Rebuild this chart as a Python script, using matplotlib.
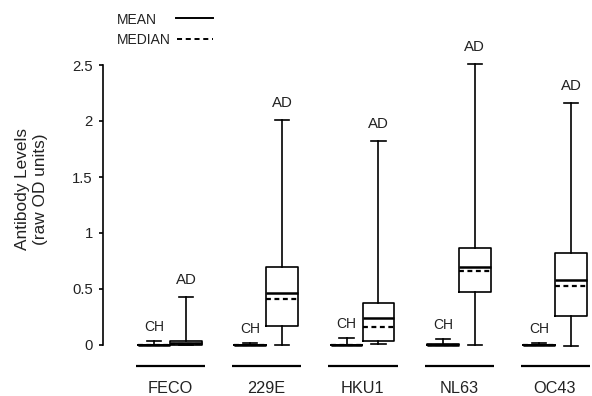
import matplotlib
matplotlib.use("Agg")
import matplotlib.pyplot as plt
from matplotlib.lines import Line2D

plt.rcParams['font.family'] = ['Liberation Sans', 'DejaVu Sans']

groups = ["FECO", "229E", "HKU1", "NL63", "OC43"]

# AD (adult) box statistics
ad_whislo = [0.0, 0.0, 0.005, 0.0, -0.005]
ad_q1 = [0.0, 0.17, 0.035, 0.47, 0.26]
ad_med = [0.01, 0.41, 0.16, 0.66, 0.53]
ad_mean = [0.02, 0.465, 0.24, 0.70, 0.58]
ad_q3 = [0.035, 0.70, 0.375, 0.87, 0.82]
ad_whishi = [0.43, 2.01, 1.82, 2.51, 2.16]

# CH (children) box statistics
ch_whislo = [0.0, 0.0, 0.0, 0.0, 0.0]
ch_q1 = [0.0, 0.0, 0.0, 0.0, 0.0]
ch_med = [0.0, 0.0, 0.0, 0.0, 0.0]
ch_mean = [0.0, 0.0, 0.0, 0.003, 0.0]
ch_q3 = [0.0, 0.0, 0.0, 0.008, 0.0]
ch_whishi = [0.035, 0.015, 0.06, 0.055, 0.02]

yticks = [0, 0.5, 1, 1.5, 2, 2.5]
yticklabels = ["0", "0.5", "1", "1.5", "2", "2.5"]

W, H = 592, 396
fig = plt.figure(figsize=(W / 100, H / 100), dpi=100)
ylo, yhi = -0.24, 2.55
ppu = 112.0
bottom_px = 345 + (-ylo) * ppu
top_px = 345 - yhi * ppu
ax = fig.add_axes([103 / W, (H - bottom_px) / H, (W - 103) / W, (bottom_px - top_px) / H])

sp = 96.25
x0 = -(170 - 103) / sp
x1 = (592 - 170) / sp
ax.set_xlim(x0, x1)
ax.set_ylim(ylo, yhi)

def stats(lo, q1, med, mean, q3, hi):
    return [dict(whislo=a, q1=b, med=c, mean=d, q3=e, whishi=f, fliers=[])
            for a, b, c, d, e, f in zip(lo, q1, med, mean, q3, hi)]

off = 0.166
pos = list(range(len(groups)))
ch_pos = [p - off for p in pos]
ad_pos = [p + off for p in pos]

common = dict(
    widths=0.33, capwidths=0.15, showmeans=True, meanline=True, showfliers=False,
    boxprops=dict(color='black', linewidth=1.2),
    whiskerprops=dict(color='black', linewidth=1.2),
    capprops=dict(color='black', linewidth=1.2),
    medianprops=dict(color='black', linewidth=1.6, linestyle=(0, (2.2, 1.6))),
    meanprops=dict(color='black', linewidth=1.8, linestyle='-'),
    manage_ticks=False,
)
ax.bxp(stats(ch_whislo, ch_q1, ch_med, ch_mean, ch_q3, ch_whishi), positions=ch_pos, **common)
ax.bxp(stats(ad_whislo, ad_q1, ad_med, ad_mean, ad_q3, ad_whishi), positions=ad_pos, **common)

for i, g in enumerate(groups):
    ax.text(ch_pos[i], ch_whishi[i] + 0.125, "CH", ha='center', va='center', fontsize=10, color='#222222')
    ax.text(ad_pos[i], ad_whishi[i] + 0.15, "AD", ha='center', va='center', fontsize=10.8, color='#222222')
    ax.plot([i - 0.355, i + 0.365], [-0.19, -0.19], color='black', linewidth=1.6,
            clip_on=False, solid_capstyle='butt')
    ax.text(i, -0.385, g, ha='center', va='center', fontsize=11.7, color='#222222', clip_on=False)

for s in ['top', 'right', 'bottom']:
    ax.spines[s].set_visible(False)
ax.spines['left'].set_bounds(0, 2.5)
ax.spines['left'].set_linewidth(1.2)
ax.set_xticks([])
ax.set_yticks(yticks)
ax.set_yticklabels(yticklabels, fontsize=10.7, color='#222222')
ax.tick_params(axis='y', length=3, width=1.2, pad=4.3, direction='out')

fig.text(31.5 / W, 1 - 189 / H, "Antibody Levels\n(raw OD units)", rotation=90,
         ha='center', va='center', fontsize=12.4, color='#222222', linespacing=1.3)

# legend
fig.text(117 / W, 1 - 20 / H, "MEAN", ha='left', va='center', fontsize=10, color='#222222')
fig.text(117 / W, 1 - 40 / H, "MEDIAN", ha='left', va='center', fontsize=10, color='#222222')
fig.add_artist(Line2D([176 / W, 213 / W], [1 - 18 / H, 1 - 18 / H], color='black', linewidth=1.4,
                     transform=fig.transFigure))
fig.add_artist(Line2D([177 / W, 213 / W], [1 - 39 / H, 1 - 39 / H], color='black', linewidth=1.4,
                     linestyle=(0, (2.6, 1.9)), transform=fig.transFigure))

fig.savefig("out.png", dpi=100, facecolor='white')
